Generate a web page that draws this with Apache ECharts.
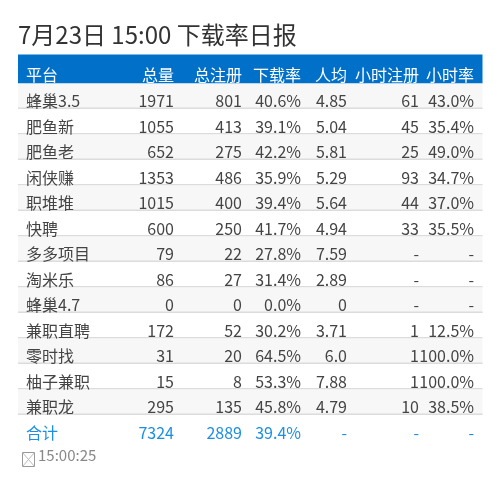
<!DOCTYPE html>
<html>
<head>
<meta charset="utf-8">
<style>
	html, body { margin: 0; padding: 0; background: #fff; }
	#main { width: 500px; height: 490px; }
</style>
<script src="https://cdn.jsdelivr.net/npm/echarts@6/dist/echarts.min.js"></script>
</head>
<body>
<div id="main"></div>
<script>
var titleText = '7月23日 15:00 下载率日报';
var footerText = '15:00:25';

var headers = ['平台', '总量', '总注册', '下载率', '人均', '小时注册', '小时率'];
var platforms = ['蜂巢3.5', '肥鱼新', '肥鱼老', '闲侠赚', '职堆堆', '快聘', '多多项目', '淘米乐', '蜂巢4.7', '兼职直聘', '零时找', '柚子兼职', '兼职龙'];
var totals = ['1971', '1055', '652', '1353', '1015', '600', '79', '86', '0', '172', '31', '15', '295'];
var registers = ['801', '413', '275', '486', '400', '250', '22', '27', '0', '52', '20', '8', '135'];
var rates = ['40.6%', '39.1%', '42.2%', '35.9%', '39.4%', '41.7%', '27.8%', '31.4%', '0.0%', '30.2%', '64.5%', '53.3%', '45.8%'];
var averages = ['4.85', '5.04', '5.81', '5.29', '5.64', '4.94', '7.59', '2.89', '0', '3.71', '6.0', '7.88', '4.79'];
var hourRegisters = ['61', '45', '25', '93', '44', '33', '-', '-', '-', '1', '1', '1', '10'];
var hourRates = ['43.0%', '35.4%', '49.0%', '34.7%', '37.0%', '35.5%', '-', '-', '-', '12.5%', '100.0%', '100.0%', '38.5%'];
var totalRow = ['合计', '7324', '2889', '39.4%', '-', '-', '-'];

// right edge of each column, first column is left aligned
var columnX = [26, 174, 242, 301, 347, 419, 474];
var columns = [platforms, totals, registers, rates, averages, hourRegisters, hourRates];

var rowNames = ['header'].concat(platforms, ['total']);
var cells = [];
var rows = [];

rowNames.forEach(function(name, r) {
	rows.push([18, 482.5, r]);
	columnX.forEach(function(x, c) {
		var text;
		if (r === 0) {
			text = headers[c];
		} else if (r === rowNames.length - 1) {
			text = totalRow[c];
		} else {
			text = columns[c][r - 1];
		}
		cells.push([x, r, text, c]);
	});
});

var myChart = echarts.init(document.getElementById('main'), null, { renderer: 'canvas' });

var renderRow = function(params, api) {
	var r = api.value(2);
	var start = api.coord([api.value(0), r]);
	var end = api.coord([api.value(1), r]);
	var h = api.size([0, 1])[1];
	var top = start[1] - h / 2;
	var children = [];

	if (r === 0) {
		// header is a little taller than the other rows
		children.push({
			type: 'rect',
			shape: { x: start[0], y: top - 3.5, width: end[0] - start[0], height: h + 3.5 },
			style: { fill: '#0070c9' }
		});
	} else if (r < rowNames.length - 1) {
		children.push({
			type: 'rect',
			shape: { x: start[0], y: top, width: end[0] - start[0], height: h },
			style: { fill: r % 2 === 1 ? '#f7f7f7' : '#ffffff' }
		});
		children.push({
			type: 'rect',
			shape: { x: start[0], y: top + h - 1.4, width: end[0] - start[0], height: 1.4 },
			style: { fill: '#dcdcdc' }
		});
	}
	return { type: 'group', children: children };
};

var renderCell = function(params, api) {
	var r = api.value(1);
	var c = api.value(3);
	var pos = api.coord([api.value(0), r]);
	var color = '#444444';
	if (r === 0) {
		color = '#ffffff';
	} else if (r === rowNames.length - 1) {
		color = '#1a8fe3';
	}
	return {
		type: 'text',
		style: {
			x: pos[0],
			y: pos[1] + (r === 0 ? 4 : 5),
			text: cells[params.dataIndex][2],
			fill: color,
			font: '16px "Noto Sans CJK SC"',
			textAlign: c === 0 ? 'left' : 'right',
			textVerticalAlign: 'middle'
		}
	};
};

var option = {
	animation: false,
	backgroundColor: '#ffffff',
	title: {
		text: titleText,
		left: 18,
		top: 23,
		padding: 0,
		textStyle: {
			color: '#333333',
			fontFamily: 'Noto Sans CJK SC',
			fontWeight: 'normal',
			fontSize: 24
		}
	},
	grid: { left: 0, right: 0, top: 58, height: 382.5 },
	xAxis: { type: 'value', min: 0, max: 500, show: false },
	yAxis: { type: 'category', inverse: true, data: rowNames, show: false },
	graphic: [{
		// the clock glyph is a missing-character box in the picture
		type: 'group',
		left: 20,
		top: 450,
		silent: true,
		children: [{
			type: 'rect',
			shape: { x: 0, y: 0, width: 12, height: 14 },
			style: { fill: 'none', stroke: '#999999', lineWidth: 1 }
		}, {
			type: 'line',
			shape: { x1: 0, y1: 0, x2: 12, y2: 14 },
			style: { stroke: '#bbbbbb', lineWidth: 1 }
		}, {
			type: 'line',
			shape: { x1: 12, y1: 0, x2: 0, y2: 14 },
			style: { stroke: '#bbbbbb', lineWidth: 1 }
		}]
	}, {
		type: 'text',
		left: 38,
		top: 448,
		style: {
			text: footerText,
			fill: '#888888',
			font: '15px "Noto Sans CJK SC"'
		}
	}],
	series: [{
		type: 'custom',
		renderItem: renderRow,
		data: rows,
		encode: { x: [0, 1], y: 2 },
		clip: false,
		silent: true
	}, {
		type: 'custom',
		renderItem: renderCell,
		data: cells.map(function(item) {
			return [item[0], item[1], item[2], item[3]];
		}),
		dimensions: ['x', 'row', { name: 'text', type: 'ordinal' }, 'col'],
		encode: { x: 0, y: 1 },
		clip: false,
		silent: true
	}]
};

myChart.setOption(option);
</script>
</body>
</html>
